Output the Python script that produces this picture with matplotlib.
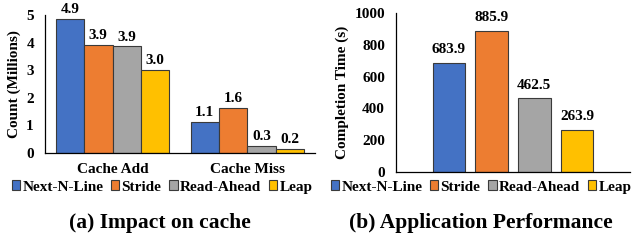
import matplotlib
matplotlib.use("Agg")
import matplotlib.pyplot as plt
import numpy as np
from matplotlib.patches import Patch

plt.rcParams['font.family'] = ['Liberation Serif', 'DejaVu Serif']
plt.rcParams['font.weight'] = 'bold'

series = ["Next-N-Line", "Stride", "Read-Ahead", "Leap"]
colors = ["#4472C4", "#ED7D31", "#A5A5A5", "#FFC000"]

cache_categories = ["Cache Add", "Cache Miss"]
cache_values = {
    "Next-N-Line": [4.87, 1.12],
    "Stride": [3.92, 1.63],
    "Read-Ahead": [3.86, 0.27],
    "Leap": [3.02, 0.16],
}
perf_values = [683.9, 885.9, 462.5, 263.9]

W, H = 635, 240
fig = plt.figure(figsize=(W / 100, H / 100), dpi=100)

def px_axes(left, right, top, bottom):
    return fig.add_axes([left / W, 1 - bottom / H, (right - left) / W, (bottom - top) / H])

edge = "#3a3a3a"
fs_tick = 11
fs_lab = 11
fs_val = 11

# ---- Left panel ----
ax1 = px_axes(45, 315, 15, 153)
x = np.arange(len(cache_categories))
bw = 0.211
for i, s in enumerate(series):
    xs = x + (i - 1.5) * bw
    ax1.bar(xs, cache_values[s], width=bw, color=colors[i], edgecolor=edge, linewidth=0.8, label=s)
    for xi, v in zip(xs, cache_values[s]):
        ax1.annotate(f"{v:.1f}", (xi, v), xytext=(0, 2), textcoords="offset points",
                     ha="center", va="bottom", fontsize=fs_val, fontweight="bold")
ax1.set_xlim(-0.5, 1.5)
ax1.set_ylim(0, 5)
ax1.set_yticks([0, 1, 2, 3, 4, 5])
ax1.set_xticks(x)
ax1.set_xticklabels(cache_categories, fontsize=fs_lab, fontweight="bold")
ax1.tick_params(axis="both", length=0, labelsize=fs_tick)
ax1.tick_params(axis="y", pad=8)
ax1.tick_params(axis="x", pad=7)
ax1.set_ylabel("Count (Millions)", fontsize=fs_lab, fontweight="bold", labelpad=4)

# ---- Right panel ----
ax2 = px_axes(396, 630, 13, 172)
xp = np.arange(len(series))
ax2.bar(xp, perf_values, width=0.76, color=colors, edgecolor=edge, linewidth=0.8)
for xi, v in zip(xp, perf_values):
    ax2.annotate(f"{v:.1f}", (xi, v), xytext=(0, 5), textcoords="offset points",
                 ha="center", va="bottom", fontsize=fs_val, fontweight="bold")
ax2.set_xlim(-1.24, 4.24)
ax2.set_ylim(0, 1000)
ax2.set_yticks([0, 200, 400, 600, 800, 1000])
ax2.set_xticks([])
ax2.tick_params(axis="both", length=0, labelsize=fs_tick)
ax2.tick_params(axis="y", pad=8)
ax2.set_ylabel("Completion Time (s)", fontsize=fs_lab, fontweight="bold", labelpad=4)

for ax in (ax1, ax2):
    for sp in ["top", "right"]:
        ax.spines[sp].set_visible(False)
    for sp in ["left", "bottom"]:
        ax.spines[sp].set_color("#000000")
        ax.spines[sp].set_linewidth(0.9)
    for lbl in ax.get_yticklabels() + ax.get_xticklabels():
        lbl.set_fontweight("bold")

# ---- Legends ----
handles = [Patch(facecolor=c, edgecolor=edge, linewidth=0.8, label=s) for c, s in zip(colors, series)]
leg_kw = dict(ncol=4, frameon=False, handlelength=0.55, handleheight=0.55,
              handletextpad=0.15, columnspacing=0.5, borderpad=0, borderaxespad=0,
              prop={"weight": "bold", "size": fs_lab})
for cx in (162, 481):
    leg = fig.legend(handles=handles, loc="center", bbox_to_anchor=(cx / W, 1 - 187 / H), **leg_kw)
    leg._legend_handle_box.align = "top"

# ---- Subtitles ----
fig.text(160 / W, 1 - 223 / H, "(a) Impact on cache", ha="center", va="center",
         fontsize=15.5, fontweight="bold")
fig.text(481 / W, 1 - 223 / H, "(b) Application Performance", ha="center", va="center",
         fontsize=15.5, fontweight="bold")

fig.savefig("out.png", dpi=100)
